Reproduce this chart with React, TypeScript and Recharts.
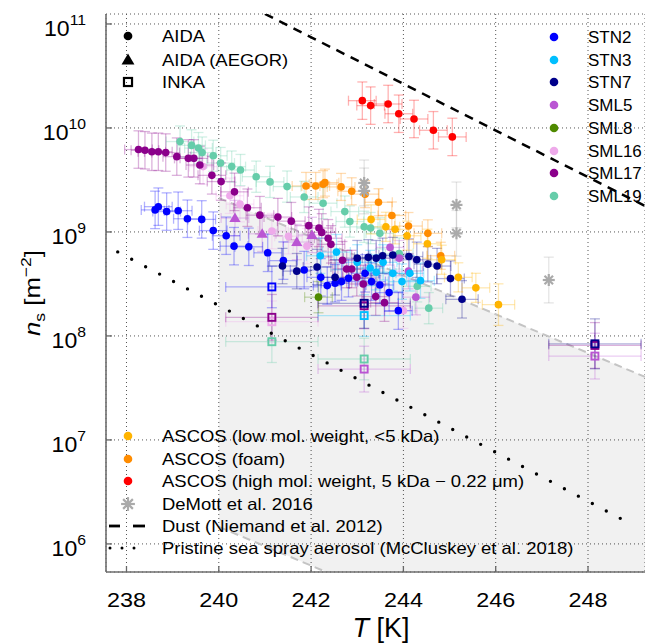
import React from "react";
import {
  ComposedChart,
  Scatter,
  Line,
  Area,
  XAxis,
  YAxis,
  CartesianGrid,
  ErrorBar,
} from "recharts";

type Pt = [number, number, number?, number?]; // T [K], ns [m^-2], dT, dlog10
type Kind = "circle" | "triangle" | "square" | "star";

const font = '"Liberation Sans", Arial, Helvetica, sans-serif';

const xTicks = [238, 240, 242, 244, 246, 248];
const yTicks = [1e6, 1e7, 1e8, 1e9, 1e10, 1e11];
const xDomain: [number, number] = [237.556, 249.235];
const yDomain: [number, number] = [5.37e5, 1.247e11];

// ---- AIDA (circles) ----
const sml17Aida: Pt[] = [
  [238.26, 6.2e9], [238.4, 6.1e9], [238.55, 5.9e9], [238.69, 5.9e9], [238.85, 5.8e9],
  [239.09, 5.3e9], [239.34, 5.1e9], [239.46, 5.1e9], [239.59, 4.4e9], [239.85, 3.5e9],
  [240.05, 3.05e9], [240.34, 2.43e9], [240.62, 1.71e9], [240.89, 1.45e9], [241.28, 1.39e9],
  [241.57, 1.27e9], [241.95, 1.15e9], [242.17, 1.09e9], [242.23, 9.9e8], [242.37, 8.7e8],
  [242.43, 7.6e8], [242.68, 5.35e8], [242.77, 4.4e8], [242.88, 4.4e8], [242.99, 3.66e8],
  [243.13, 3.16e8], [243.4, 2.39e8], [243.59, 2.09e8],
];
const sml19Aida: Pt[] = [
  [239.16, 7.4e9], [239.41, 6.8e9], [239.56, 6.4e9], [239.64, 5.8e9], [239.88, 5.4e9],
  [240.04, 4.6e9], [240.28, 4.25e9], [240.47, 3.94e9], [240.81, 3.4e9], [241.11, 3.03e9],
  [241.48, 2.73e9], [241.85, 2.17e9], [242.26, 1.89e9], [242.73, 1.57e9], [242.84, 1.26e9],
  [243.15, 1.12e9], [243.29, 1.09e9], [243.49, 9.7e8], [243.91, 6.2e8], [244.3, 3.0e8],
  [244.55, 1.85e8],
];
const sml16Aida: Pt[] = [
  [239.66, 4.25e9], [240.24, 2.23e9], [240.46, 1.85e9], [241.15, 1.02e9], [241.51, 9.1e8],
  [241.91, 7.3e8], [244.0, 1.75e8],
];
const sml5Aida: Pt[] = [[243.71, 7.1e8], [243.91, 5.6e8], [244.11, 4.2e8], [244.27, 2.36e8]];
const stn2Aida: Pt[] = [
  [238.62, 1.63e9], [238.69, 1.75e9], [238.87, 1.57e9], [239.12, 1.6e9], [239.32, 1.34e9],
  [239.63, 1.32e9], [239.88, 1.03e9], [240.16, 9.2e8], [240.33, 7.3e8], [240.65, 7.2e8],
  [241.06, 6.3e8], [241.4, 5.3e8], [241.85, 4.3e8], [242.21, 3.66e8], [242.35, 3.05e8],
  [242.52, 3.21e8], [242.66, 3.33e8], [242.81, 3.59e8], [243.17, 4.0e8], [243.31, 3.33e8],
  [243.49, 3.09e8], [243.69, 2.61e8], [243.89, 1.75e8],
];
const stn3Aida: Pt[] = [
  [242.2, 5.9e8], [242.55, 6.4e8], [243.0, 5.1e8], [243.28, 4.5e8], [243.41, 4.1e8],
  [243.56, 5.1e8], [243.77, 4.0e8], [243.97, 3.33e8], [244.14, 4.0e8], [244.37, 3.4e8],
];
const stn7Aida: Pt[] = [
  [241.38, 4.7e8], [241.69, 4.2e8], [242.13, 4.6e8], [242.52, 3.66e8], [243.0, 5.6e8],
  [243.24, 5.7e8], [243.41, 5.6e8], [243.55, 5.9e8], [243.77, 6.0e8], [244.12, 5.8e8],
  [244.29, 5.4e8], [244.53, 4.9e8], [244.73, 4.7e8], [245.02, 3.56e8], [245.27, 2.25e8, 0.35, 0.18],
];
const sml8Aida: Pt[] = [[242.16, 2.36e8]];

// ---- AIDA (AEGOR), triangles ----
const sml5Aegor: Pt[] = [[240.35, 1.36e9], [240.94, 9.6e8], [241.69, 8.0e8], [242.02, 9.35e8]];

// ---- INKA, open squares ----
const stn2Inka: Pt[] = [[241.15, 2.96e8]];
const stn3Inka: Pt[] = [[243.15, 1.57e8]];
const stn7Inka: Pt[] = [[243.15, 2.06e8], [248.15, 8.4e7]];
const sml17Inka: Pt[] = [[241.15, 1.51e8], [243.15, 1.95e8], [248.15, 8.1e7]];
const sml16Inka: Pt[] = [[241.15, 1.37e8]];
const sml5Inka: Pt[] = [[243.15, 4.8e7], [248.15, 6.4e7]];
const sml19Inka: Pt[] = [[241.15, 8.8e7], [243.15, 6.0e7]];

// ---- ASCOS and DeMott ----
const ascosFoam: Pt[] = [
  [241.89, 2.77e9], [242.1, 2.77e9], [242.26, 2.88e9], [242.3, 2.98e9], [242.65, 2.71e9],
  [242.88, 2.46e9], [243.17, 2.31e9], [243.46, 1.93e9], [243.75, 1.44e9], [244.11, 1.14e9],
  [244.53, 9.7e8], [244.81, 5.9e8],
];
const ascosLow: Pt[] = [
  [243.3, 1.32e9], [243.62, 1.12e9], [243.82, 1.06e9], [244.08, 9.2e8], [244.52, 7.7e8],
  [244.83, 5.4e8], [245.19, 3.66e8], [245.57, 2.9e8], [246.06, 2.0e8, 0.35, 0.2],
];
const ascosHigh: Pt[] = [
  [243.11, 1.83e10], [243.29, 1.64e10], [243.67, 1.7e10], [243.9, 1.37e10], [244.23, 1.22e10],
  [244.65, 9.5e9], [245.06, 8.2e9],
];
const demott: Pt[] = [
  [243.15, 2.96e9], [243.15, 2.48e9], [245.15, 1.82e9], [245.15, 9.7e8], [247.15, 3.45e8],
];

// ---- parameterisations ----
const dustT = [241.0, 249.235];
const dustNs = [1.25e11, 1.78e9];
const pristineT = [237.81, 248.97];
const pristineNs = [6.43e8, 1.52e6];
const bandT = [240, 249.235];
const bandHigh = [2.12e9, 4.04e7];
const bandLow = [1.46e6, 2.77e4];

const C = {
  stn2: "#0000ff",
  stn3: "#00bfff",
  stn7: "#00008b",
  sml5: "#ba55d3",
  sml8: "#4f8a00",
  sml16: "#eeaaea",
  sml17: "#8b008b",
  sml19: "#66cdaa",
  low: "#ffb400",
  foam: "#ff8c00",
  high: "#ff0000",
  demott: "#aaaaaa",
};

type Series = { id: string; pts: Pt[]; color: string; kind: Kind; dT: number; dl: number };

const series: Series[] = [
  { id: "sml19i", pts: sml19Inka, color: C.sml19, kind: "square", dT: 1.0, dl: 0.2 },
  { id: "sml5i", pts: sml5Inka, color: C.sml5, kind: "square", dT: 1.0, dl: 0.22 },
  { id: "sml16i", pts: sml16Inka, color: C.sml16, kind: "square", dT: 1.0, dl: 0.2 },
  { id: "sml17i", pts: sml17Inka, color: C.sml17, kind: "square", dT: 1.0, dl: 0.22 },
  { id: "stn3i", pts: stn3Inka, color: C.stn3, kind: "square", dT: 1.0, dl: 0.2 },
  { id: "stn2i", pts: stn2Inka, color: C.stn2, kind: "square", dT: 1.0, dl: 0.2 },
  { id: "stn7i", pts: stn7Inka, color: C.stn7, kind: "square", dT: 1.0, dl: 0.24 },
  { id: "sml19", pts: sml19Aida, color: C.sml19, kind: "circle", dT: 0.3, dl: 0.15 },
  { id: "sml16", pts: sml16Aida, color: C.sml16, kind: "circle", dT: 0.3, dl: 0.17 },
  { id: "sml17", pts: sml17Aida, color: C.sml17, kind: "circle", dT: 0.3, dl: 0.18 },
  { id: "sml5t", pts: sml5Aegor, color: C.sml5, kind: "triangle", dT: 0.3, dl: 0.17 },
  { id: "sml5", pts: sml5Aida, color: C.sml5, kind: "circle", dT: 0.3, dl: 0.17 },
  { id: "stn2", pts: stn2Aida, color: C.stn2, kind: "circle", dT: 0.3, dl: 0.18 },
  { id: "stn3", pts: stn3Aida, color: C.stn3, kind: "circle", dT: 0.3, dl: 0.17 },
  { id: "stn7", pts: stn7Aida, color: C.stn7, kind: "circle", dT: 0.3, dl: 0.17 },
  { id: "sml8", pts: sml8Aida, color: C.sml8, kind: "circle", dT: 0.3, dl: 0.15 },
  { id: "foam", pts: ascosFoam, color: C.foam, kind: "circle", dT: 0.3, dl: 0.13 },
  { id: "low", pts: ascosLow, color: C.low, kind: "circle", dT: 0.3, dl: 0.14 },
  { id: "high", pts: ascosHigh, color: C.high, kind: "circle", dT: 0.3, dl: 0.18 },
  { id: "demott", pts: demott, color: C.demott, kind: "star", dT: 0, dl: 0.22 },
];

const fade = (hex: string, a: number) => {
  const n = parseInt(hex.slice(1), 16);
  return `rgba(${(n >> 16) & 255},${(n >> 8) & 255},${n & 255},${a})`;
};

const rows = (s: Series) =>
  s.pts.map(([T, ns, dT, dl]) => ({ T, ns, dT: dT ?? s.dT, dl: dl ?? s.dl }));

const yErr = (d: any) => [d.ns * (1 - Math.pow(10, -d.dl)), d.ns * (Math.pow(10, d.dl) - 1)];

function marker(kind: Kind, color: string, cx: number, cy: number, big = false) {
  const s = big ? 1.15 : 1;
  if (kind === "circle") return <circle cx={cx} cy={cy} r={3.8 * s} fill={color} />;
  if (kind === "triangle") {
    const h = 5.6 * s;
    return (
      <polygon
        points={`${cx},${cy - h} ${cx - h},${cy + h * 0.7} ${cx + h},${cy + h * 0.7}`}
        fill={color}
      />
    );
  }
  if (kind === "square") {
    const a = 3.5 * s;
    return (
      <rect x={cx - a} y={cy - a} width={2 * a} height={2 * a} fill="none" stroke={color} strokeWidth={1.9 * s} />
    );
  }
  const r = 6 * s;
  const d = r * 0.707;
  return (
    <g stroke={color} strokeWidth={2.2}>
      <line x1={cx - r} y1={cy} x2={cx + r} y2={cy} />
      <line x1={cx} y1={cy - r} x2={cx} y2={cy + r} />
      <line x1={cx - d} y1={cy - d} x2={cx + d} y2={cy + d} />
      <line x1={cx - d} y1={cy + d} x2={cx + d} y2={cy - d} />
    </g>
  );
}

// the reference lettering runs a bit wider than Liberation Sans, so stretch it horizontally
function SText({ x, y, size, sx = 1, anchor = "start", children }: any) {
  return (
    <text
      transform={`translate(${x},${y}) scale(${sx},1)`}
      textAnchor={anchor}
      fontSize={size}
      fontFamily={font}
      fill="#000"
    >
      {children}
    </text>
  );
}

const XTick = (p: any) => (
  <g>
    <line x1={p.x} x2={p.x} y1={p.y} y2={p.y - 6} stroke="#666" strokeWidth={1.3} />
    <SText x={p.x} y={p.y + 35} size={20} sx={1.17} anchor="middle">
      {p.payload.value}
    </SText>
  </g>
);

const YTick = (p: any) => {
  const e = Math.round(Math.log10(p.payload.value));
  return (
    <g>
      <line x1={p.x} x2={p.x + 6} y1={p.y} y2={p.y} stroke="#666" strokeWidth={1.3} />
      <SText x={p.x - 20} y={p.y + 12.5} size={22} sx={1.05} anchor="end">
        <tspan>10</tspan>
        <tspan fontSize={15} dy={-11}>{e}</tspan>
      </SText>
    </g>
  );
};

const legendTop: [string, Kind][] = [
  ["AIDA", "circle"],
  ["AIDA (AEGOR)", "triangle"],
  ["INKA", "square"],
];
const legendTopY = [36, 60, 82];
const legendRight: [string, string][] = [
  ["STN2", C.stn2], ["STN3", C.stn3], ["STN7", C.stn7], ["SML5", C.sml5],
  ["SML8", C.sml8], ["SML16", C.sml16], ["SML17", C.sml17], ["SML19", C.sml19],
];
const legendRightY = [37, 60, 82, 105, 128, 151, 173, 196];
const legendBottom = [
  "ASCOS (low mol. weight, <5 kDa)",
  "ASCOS (foam)",
  "ASCOS (high mol. weight, 5 kDa \u2212 0.22 \u03bcm)",
  "DeMott et al. 2016",
  "Dust (Niemand et al. 2012)",
  "Pristine sea spray aerosol (McCluskey et al. 2018)",
];
const legendBottomY = [436, 459, 481, 504, 526, 548];

const LEG_SIZE = 16.5;
const LEG_SX = 1.12;

export default function App() {
  const dustRows = dustT.map((T, i) => ({ T, ns: dustNs[i] }));
  const pristineRows = pristineT.map((T, i) => ({ T, ns: pristineNs[i] }));
  const bandRows = bandT.map((T, i) => ({ T, band: [bandLow[i], bandHigh[i]], hi: bandHigh[i], lo: bandLow[i] }));
  const axisLine = { stroke: "#6e6e6e", strokeWidth: 1.6 };

  return (
    <div
      style={{
        position: "absolute",
        left: 0,
        top: 0,
        width: 645,
        height: 644,
        overflow: "hidden",
        background: "#fff",
        fontFamily: font,
      }}
    >
      <ComposedChart width={645} height={644} margin={{ top: 14, right: 0, bottom: 0, left: 0 }}>
        <XAxis
          dataKey="T"
          type="number"
          domain={xDomain}
          ticks={xTicks}
          interval={0}
          allowDataOverflow
          height={72}
          tickSize={0}
          tickMargin={0}
          tickLine={false}
          axisLine={axisLine}
          tick={XTick}
        />
        <XAxis
          xAxisId="top"
          orientation="top"
          type="number"
          domain={xDomain}
          allowDataOverflow
          height={0}
          tick={false}
          tickLine={false}
          axisLine={axisLine}
        />
        <YAxis
          dataKey="ns"
          type="number"
          scale="log"
          domain={yDomain}
          ticks={yTicks}
          interval={0}
          allowDataOverflow
          width={106}
          tickSize={0}
          tickMargin={0}
          tickLine={false}
          axisLine={axisLine}
          tick={YTick}
        />
        <CartesianGrid stroke="#555" strokeDasharray="1 3" strokeWidth={1} />

        <Area
          data={bandRows}
          dataKey="band"
          type="linear"
          stroke="none"
          fill="#000"
          fillOpacity={0.055}
          isAnimationActive={false}
        />
        <Line data={bandRows} dataKey="hi" type="linear" stroke="#c4c4c4" strokeWidth={2} strokeDasharray="8 5" dot={false} isAnimationActive={false} />
        <Line data={bandRows} dataKey="lo" type="linear" stroke="#c4c4c4" strokeWidth={2} strokeDasharray="8 5" dot={false} isAnimationActive={false} />

        {series.map((s) => (
          <Scatter
            key={s.id}
            data={rows(s)}
            fill={s.color}
            isAnimationActive={false}
            shape={(p: any) => marker(s.kind, s.color, p.cx, p.cy)}
          >
            {s.dT > 0 && (
              <ErrorBar direction="x" dataKey="dT" width={5} stroke={fade(s.color, 0.3)} strokeWidth={1.3} />
            )}
            <ErrorBar direction="y" dataKey={yErr} width={5} stroke={fade(s.color, 0.3)} strokeWidth={1.3} />
          </Scatter>
        ))}

        <Line data={dustRows} dataKey="ns" type="linear" stroke="#000" strokeWidth={2.5} strokeDasharray="9 7" dot={false} isAnimationActive={false} />
        <Line
          data={pristineRows}
          dataKey="ns"
          type="linear"
          stroke="#000"
          strokeWidth={3.4}
          strokeDasharray="0 15.8"
          strokeLinecap="round"
          dot={false}
          isAnimationActive={false}
        />
      </ComposedChart>

      <svg
        width={645}
        height={644}
        style={{ position: "absolute", left: 0, top: 0, pointerEvents: "none" }}
        fontFamily={font}
      >
        {legendTop.map(([label, kind], i) => (
          <g key={label}>
            {marker(kind, "#000", 128, legendTopY[i], true)}
            <SText x={162} y={legendTopY[i] + 6} size={LEG_SIZE} sx={LEG_SX}>{label}</SText>
          </g>
        ))}
        {legendRight.map(([label, color], i) => (
          <g key={label}>
            <circle cx={554} cy={legendRightY[i]} r={4.3} fill={color} />
            <SText x={588} y={legendRightY[i] + 6} size={LEG_SIZE} sx={1.03}>{label}</SText>
          </g>
        ))}
        {legendBottom.map((label, i) => (
          <SText key={label} x={162} y={legendBottomY[i] + 6} size={LEG_SIZE} sx={LEG_SX}>{label}</SText>
        ))}
        <circle cx={128} cy={legendBottomY[0]} r={4.3} fill={C.low} />
        <circle cx={128} cy={legendBottomY[1]} r={4.3} fill={C.foam} />
        <circle cx={128} cy={legendBottomY[2]} r={4.3} fill={C.high} />
        {marker("star", C.demott, 128, legendBottomY[3], true)}
        <line x1={109} x2={120} y1={legendBottomY[4]} y2={legendBottomY[4]} stroke="#000" strokeWidth={2.8} />
        <line x1={133} x2={145} y1={legendBottomY[4]} y2={legendBottomY[4]} stroke="#000" strokeWidth={2.8} />
        {[110, 122, 134].map((x) => (
          <circle key={x} cx={x} cy={legendBottomY[5]} r={1.5} fill="#000" />
        ))}

        <SText x={381} y={637} size={27} anchor="middle">
          <tspan fontStyle="italic">T</tspan>
          <tspan> [K]</tspan>
        </SText>
        <text
          transform="translate(40,293) rotate(-90) scale(1.17,1)"
          textAnchor="middle"
          fontSize={22}
          fontFamily={font}
        >
          <tspan fontStyle="italic">n</tspan>
          <tspan fontSize={15} dy={5}>s</tspan>
          <tspan dy={-5}> [m</tspan>
          <tspan fontSize={15} dy={-9}>{"\u22122"}</tspan>
          <tspan dy={9}>]</tspan>
        </text>
      </svg>
    </div>
  );
}
